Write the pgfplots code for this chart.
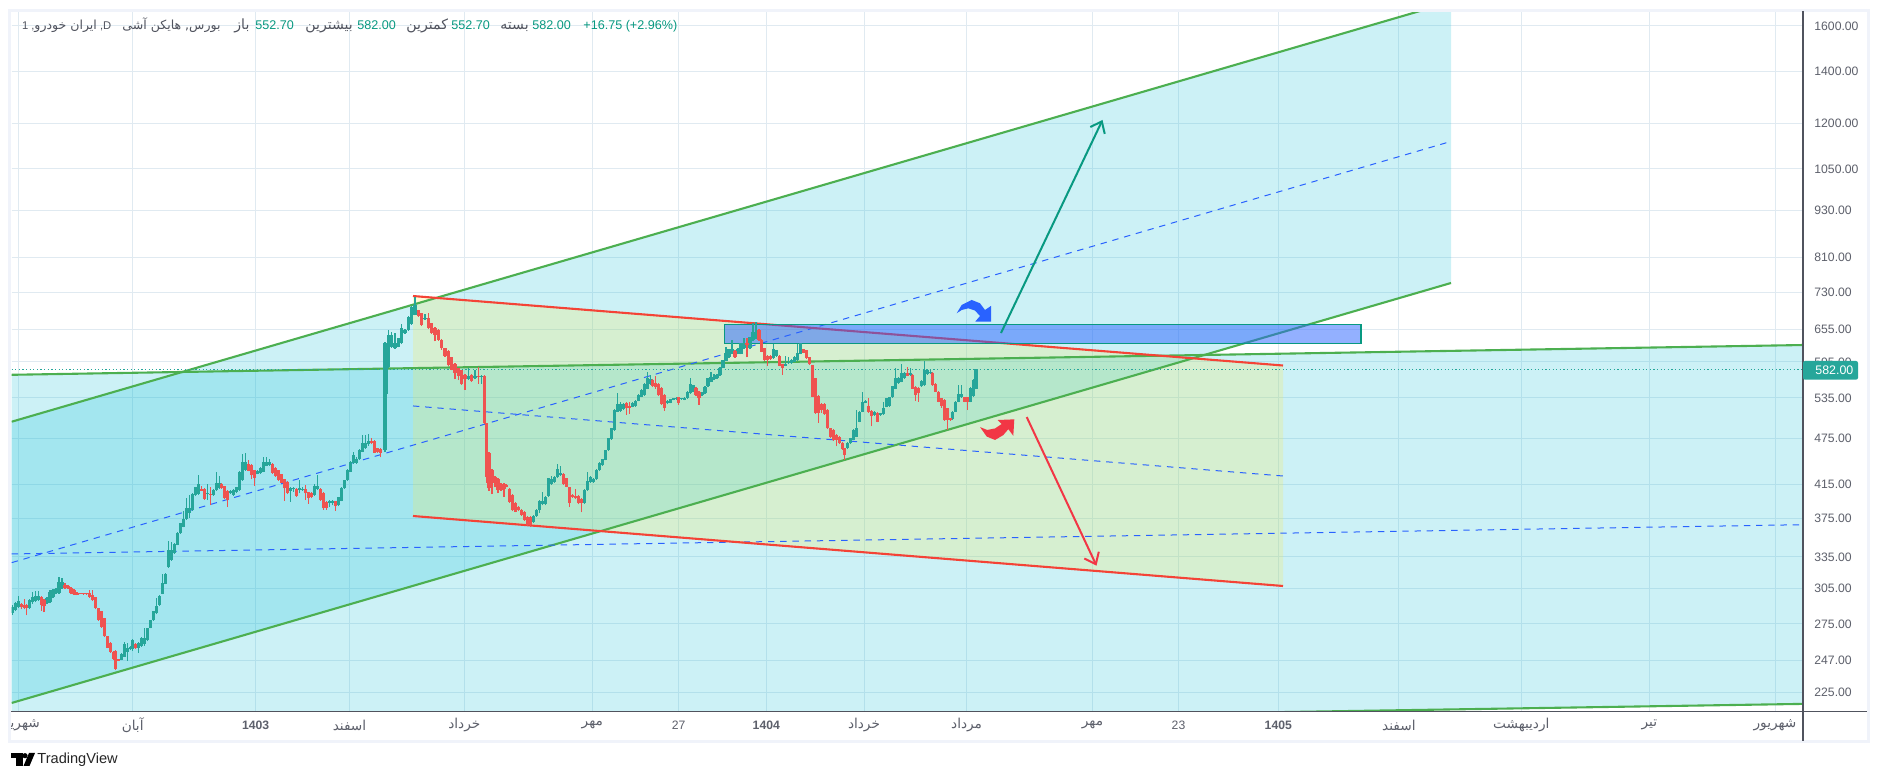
\documentclass[border=0pt]{standalone}
\usepackage{pgfplots}
\usepackage{pgfplotstable}
\usepackage{fontspec}
\pgfplotsset{compat=1.18}
\usetikzlibrary{arrows.meta}
\setmainfont{Liberation Sans}
\newfontfamily\arabicfont[Script=Arabic,Scale=1.12]{DejaVu Sans}
\TeXXeTstate=1
\newcommand\ar[1]{{\arabicfont\beginR #1\endR}}
\definecolor{cyanfill}{HTML}{00BCD4}
\definecolor{yelfill}{HTML}{FFEB3B}
\definecolor{gridc}{HTML}{E0EAF1}
\definecolor{upc}{HTML}{26A69A}
\definecolor{downc}{HTML}{EF5350}
\definecolor{greenl}{HTML}{4CAF50}
\definecolor{redl}{HTML}{F44336}
\definecolor{bluel}{HTML}{2962FF}
\definecolor{tealarrow}{HTML}{089981}
\definecolor{redarrow}{HTML}{F23645}
\definecolor{labc}{HTML}{5D606B}
\definecolor{frame}{HTML}{F0F3FA}
\definecolor{axisc}{HTML}{50535E}
\pgfplotstableread{
x o c l h
12.7 283.7 289 282.5 290.5
15.7 286.5 292.6 285.5 293.5
18.3 289 294 288 299
21.3 291.5 289 287 292.5
24.3 291 288.5 287 295.6
26.7 290.5 288.5 282 291.5
29.3 288 295 287 296
32.3 293 298 292 302
35.3 294 299 293 303
38.3 295 299 294 303
41.3 297.5 290.5 286 298.5
44 295 289.5 284.5 296
47 292.8 296.5 292 297.5
50 293.5 302.5 292.5 304
53 297.5 303.5 296.5 305
56 301 304.5 300 305.5
59 301.5 311.5 300.5 316
62 306 311 305 314.5
65 308.2 306 305 310
68 307.5 305.5 305 308.5
71 306 301 300 306.5
74 304 300 299.5 304.5
77 301.5 299.7 299.2 302
80 301.3 300.4 300 301.6
83.3 301 300.2 299.8 301.4
86.7 300.9 300.1 299.7 301.3
89.3 301 298 297 304
92.3 299.5 295 294 304
95.3 297.5 288 287 298
98.3 288 278 277.5 288.5
101.3 285.5 272.8 272 286
104.3 279.5 265 264.5 280
107.3 265 256.5 256 265.5
110.3 260 253 252.5 260.5
113.3 253.5 248 247.5 254
115.7 254 241 240 254.5
118.7 248 246.8 246.5 248.3
121.7 247.3 252 247 252.5
124.7 249.8 259 249.5 260.5
127.7 253.5 256 246.8 260
130.7 255.2 257 254.5 257.5
132.7 255.2 262.3 254 263
135.7 259.5 256 255.5 260
138.7 256.5 259.7 252.5 260.5
141.7 257.7 263.6 257 264.5
144.7 259 264.2 258 272
147.7 262.3 271.4 261.5 272
150.7 272 278 271.5 278.5
153.7 278 285.5 277.5 286
156.7 283.7 290 283 297
159.7 290.8 299 290 299.5
162.7 300.5 310 300 319
165.7 309.5 319 309 319.5
168.7 325 342 324.5 351
171.7 332 342 331 350
174.7 338.6 348 338 349
177.7 347 359 346.5 360
180.7 359 370 358.5 370.5
183.7 366 375 365.5 384
186.7 375 387 374 398
189.7 381 387.5 376 402
192.7 384.6 403 384 404
195.7 402 411.5 401 412
198.7 403 415 402 426
201.7 409 407.2 406.5 413
204.7 409 397.5 396.5 410
207.7 403 404 396 415
210.7 403.5 402.5 390 411
213.7 402 408 401 409
216.7 408 416 407 430
219.7 410 417 409 425
221.3 415 410 409 416
224.3 412.5 398 397 413
227.3 407 396 388 408
230.3 404 407 403 408
233.3 402 408 401 409
236.3 405 411 404 412
239.3 408 430.5 407 431
242.3 420 443 419 454
245.3 432.7 443 432 454.6
248.3 440 432 431 446
251.3 439 426 421 440
254.3 432.7 423 413 433
257.3 427.5 432 427 433
260.3 428.4 435 428 436
263.3 430.5 442.5 430 450
266.3 438 442.5 437.5 450
269.3 439 442.5 438 447
272.3 441 429 428 442
275.3 435.5 425 424 436
278.3 432.7 420 419 433
281.3 427.5 417 416 428
284.3 421 410 395 421.5
287.3 418 404 403 419
290.3 407 410 394 411
293.3 409 410 406 412
296.3 409.3 401 400 410
299.3 408 410 404 420
302.3 408 409.5 407 412
305.3 409.3 404 396 414
308.3 405 399 392 406
311.3 404 399.5 398.5 405
314.3 402 413 401 415
317.3 409 413 408 426
320.3 409 396 395 410
323.3 404 386.5 385 405
326.3 393.8 387 385 394.5
329.3 393 394.8 388 396
332.3 393 394.8 390 396
335.3 394.8 389 384 395.5
338.3 390 399.5 389 400
341.3 395.5 410 394.5 411
344.3 410 420 409.5 420.5
347.3 420 432.7 419.5 433.5
350.3 430.5 443 430 444
353.3 442 452 441 456
356.3 442 447.5 441 449
359.3 446.5 459 446 460
362.3 456.7 469 456 479
365.3 461 469 460 479
368.3 466.5 471 465 481
371.3 471 468 467 476
374.3 471 455.5 455 472
377.3 461 456 455 462
380.3 460 454.6 449 461
385 459 628.3 456 630
386 542 628 541 629
388.3 585.3 644 584 653.5
391.7 622 644 620 650
395 619 629.5 618 648
398.3 622 637.5 621 639
401.7 628.3 656.7 627 665
405 647 653.5 646 655
408.3 653.5 679.6 652.5 681
411.7 665 700 664 702
415 683 703.5 682 720
418.3 693 680 679 694
421.7 686.5 663 661 688
425 674 677.5 673 686
428.3 676 656.7 655 687
431.7 666.5 647 646 668
435 658 644 632 659
438.3 653.5 634.5 633 654.5
441.7 634.5 619 617 636
445 619 605.5 604 620
448.3 615 589 587 616
451.7 603 581 580 604
455 592 576.5 565 593
458.3 584 571.5 564 585
461.7 580 557.5 556 581
465 572.5 565 547.7 573.5
468.3 565 571 564 585
471.7 572.5 562 561 574
475 567 571 565 581
478.3 571 569 558 586
481.7 569 571 558 572
484.3 571 496.5 495 572
486.7 496.5 424 417 497
489 454.5 410 407 456
492 432.7 416 403 434
495 424 418 411 425
498 421 408 404 422
501 415 408 407 416
504 415 409 400 416
506.7 414 412 411 415
509.7 409 394 393 410
512.7 402 384.6 383 403
515.7 393 382.7 382 394
518.7 388 384.6 383 389
521.7 384.6 379 378 386
524.7 382.7 373.5 372.5 384
527.7 377 368 367 378
530.7 376.5 368 366 377.5
533.7 371.5 378 370.5 379
536.7 378 384.6 377 386
539.7 384.6 395 381 396
542.7 391.5 395 390 406
545.7 391.5 400 390 401
548.7 400.8 422 400 423
551.7 415 421 414 425
554.7 418 424 417 425
557.7 423.5 433.5 422.5 440
560.7 426 429 425 437.5
563.7 427.3 415 414 428.5
566.7 422 412 411 423
569.7 411 392.5 388 412
572.7 402 400 399 403
575.7 400.8 398 397 409
578.7 400.8 392.5 391 402
581.7 397 392.5 382 398
584.7 393 408 392 409
587.7 408 419 407 430
590.7 418 423.5 417 425
593.7 417.5 421 416.5 422
596.7 421 432.7 420 434
599.7 432.7 442 432 443
602.7 439 446.5 438 447.5
605.7 445.6 458.5 445 459.5
608.7 459 475 458 476
611.7 473.5 489 473 490
614.7 486.8 516.3 486 517.5
617.7 514 526 513 543
620.7 515 526 514 528
623.7 517.5 526 516.5 527
626.7 526.5 519 509 528
629.7 522.5 519 511 528
632.7 521.5 527.5 520.5 528.5
635.7 522.5 530.5 521.5 532
638.7 530.5 539.5 529.5 541
641.7 537 547.7 536 549
644.7 539.5 558 538.5 559
647.7 550 567 549 578
650.7 557.5 565 556 572
652.7 564 554 553 565
655.7 559 552.5 550 570
658.7 558 539.5 538 559
661.7 551.5 525.5 524 552.5
664.7 539.5 519 515 540.5
667.7 526.5 530.5 525 531.5
670.7 527.5 533 526.5 534
673.7 531.8 534.5 531 535.5
676.7 533 534.5 532 536
678.3 536 527.5 524 537
681.3 533 534.5 532 535.5
684.3 531.8 534.5 531 536
687.3 534.5 545 533.5 546
690.3 543 558 542 568
693.3 545 555.5 544 556.5
696 551.5 539.5 538 552.5
699 545 534.5 524 546
702 539.5 543 538.5 544
705 542.4 552.5 541 553.5
708 553.5 567 552.5 568
711 561 569.5 560 578
714 565 568.5 564 574
717 567 572.5 566 574
720 572.5 585 571.5 586
723 585 598 584 599
726 597 611 596 622
729 603 617.3 602 618.5
732 609 617.3 608 635
735 615 603 602 616
738 609 618 608 619
741 609 628.3 608 629.5
744 619 629.5 618 638
747 628.3 625 603 638
750 619 639.5 618 641
753 634.5 650.3 633.5 666.5
756 637.5 650.3 636.5 670
759 653.5 634.5 633 655
761.7 634.5 613 612 636
764.7 619 598 597 620
767.7 605.5 598 588 606.5
770.7 605.5 599.5 598 606.5
773.7 601 617.3 600 628
776.7 605.5 616 604 617
779.7 605.5 588 587 606.5
782.7 591 585 572.5 592
785.7 588 591 587 605
788.7 593 595 592 603
791.7 593 598 592 600
794.7 595 604 594 605
797.7 598 611 597 628
800.7 609 628.3 608 629.5
803.7 617.3 611 610 618.5
806.7 616 601 600 617
809.7 603 591 590 604
812.7 589 537 536 590
815.7 567 512 511 568
818.7 538 512 497 539
821.7 525.5 516.3 512 527
824.7 525.5 510 509 527
827.7 516.3 489 488 517.5
830.7 489 476.5 475.5 490
833.7 486.8 472 471 488
836.7 479.5 472.7 464 481
839.7 477.5 468 467 478.5
842.7 468.7 460 459 470
844.3 461 452 446 462
847.3 461 468.7 460 470
850.3 468 475 467 476
853.3 472.7 486.8 472 488
856.3 477.5 490 476.5 516
859.3 499 514 498 515
862.3 514 529.3 513 545
865.3 527.5 530.5 526.5 532
868.3 522.5 514 512 535
871.3 515 507 492 516
874.3 509 514 508 515
877.3 512.5 499 498 513.5
880.3 509 511.5 508 512.5
883.3 510 519 509 528
886.3 521.5 534.5 520.5 535.5
889.3 522.5 536 521.5 537
892.3 536 553.5 535 554.5
895.3 550 567 549 585
898.3 559 568 558 569
901.3 561 576 560 592
904.3 567 576.5 566 577.5
907.3 575.5 571 570 586
910.3 572.5 575.5 571.5 585
912.7 572.5 550 549 574
915.7 552.5 539.5 530 553.5
918.7 551.5 542.4 529 552.5
921.7 553.5 563 552.5 564
924.7 555.5 580 554.5 597
927.7 574 580 573 582
930.7 575.5 578 574.5 580
932.7 576.5 555.5 554.5 578
935.7 558 545 544 559
938.7 545 529.3 528 546
941.7 534.5 522.5 520 535.5
944.7 531.8 501.3 500 533
947.7 519 501.3 487 520
950.7 503.8 501.3 500 505
952.3 502.3 514 501 515
955.3 514 529.3 513 530.5
958.3 529.3 541 528 555
961.3 536 541 535 555
964.3 536 529.3 528 537
967.3 536 529.3 516 537
970.3 529.3 551 528 552.5
973.3 538 564 537 565
976 550 582 549 582
}\candles
\begin{document}
\begin{tikzpicture}
\path[use as bounding box,fill=white] (0,0) rectangle (939.5pt,390.5pt);
\begin{axis}[
  at={(5.85pt,34.75pt)},anchor=south west,
  scale only axis,width=895.65pt,height=350.25pt,
  xmin=11.7,xmax=1803,ymode=log,ymin=212.5,ymax=1672,
  axis line style={draw=none},
  tick style={draw=none},major tick length=0pt,minor tick length=0pt,
  grid=major,grid style={gridc,line width=0.5pt},
  xtick={18.4,132.7,255.6,349.5,464.3,592.3,678.6,766.3,864,966.6,1092.5,1178.5,1278.3,1398.8,1521.3,1649.3,1775},
  xticklabels={\ar{شهریور},\ar{آبان},\textbf{1403},\ar{اسفند},\ar{خرداد},\ar{مهر},27,\textbf{1404},\ar{خرداد},\ar{مرداد},\ar{مهر},23,\textbf{1405},\ar{اسفند},\ar{اردیبهشت},\ar{تیر},\ar{شهریور}},
  xticklabel style={font=\fontsize{6.1}{7.5}\selectfont,text=labc,anchor=center,yshift=-6.75pt},
  yticklabel pos=right,
  ytick={225,247,275,305,335,375,415,475,535,595,655,730,810,930,1050,1200,1400,1600},
  yticklabels={225.00,247.00,275.00,305.00,335.00,375.00,415.00,475.00,535.00,595.00,655.00,730.00,810.00,930.00,1050.00,1200.00,1400.00,1600.00},
  yticklabel style={font=\fontsize{6.1}{7.5}\selectfont,text=labc,anchor=west,inner sep=0pt,xshift=5.5pt},
]
% wide channels
\addplot[draw=none,fill=cyanfill,fill opacity=0.2] coordinates {(11.7,498.8) (1451,1717) (1451,750.5) (11.7,217.9)} --cycle;
\addplot[draw=none,fill=cyanfill,fill opacity=0.2] coordinates {(11.7,572.7) (1803,625.2) (1803,217.3) (11.7,200)} --cycle;
\addplot[draw=none,fill=yelfill,fill opacity=0.2] coordinates {(413,722.3) (1283,588.6) (1283,307.5) (413,377.9)} --cycle;
% channel lines
\addplot[greenl,line width=1.05pt] coordinates {(11.7,498.8) (1451,1717)};
\addplot[greenl,line width=1.05pt] coordinates {(11.7,217.9) (1451,750.5)};
\addplot[greenl,line width=1.05pt] coordinates {(11.7,572.7) (1803,625.2)};
\addplot[greenl,line width=1.05pt] coordinates {(11.7,200) (1803,217.3)};
\addplot[bluel,line width=0.5pt,dash pattern=on 3.2pt off 2.9pt] coordinates {(11.7,329.4) (1451,1138.7)};
\addplot[bluel,line width=0.5pt,dash pattern=on 3.2pt off 2.9pt] coordinates {(11.7,337.9) (1800,368.3)};
\addplot[bluel,line width=0.5pt,dash pattern=on 3.2pt off 2.9pt] coordinates {(413,522.5) (1283,425.1)};
\addplot[redl,line width=1.05pt] coordinates {(413,722.3) (1283,588.6)};
\addplot[redl,line width=1.05pt] coordinates {(413,377.9) (1283,307.5)};
% last price
\addplot[upc,line width=0.5pt,dash pattern=on 0.6pt off 1.2pt] coordinates {(11.7,582) (1803,582)};
% zone
\addplot[draw=tealarrow,line width=0.6pt,fill=bluel,fill opacity=0.5,draw opacity=1] coordinates {(724.3,664.5) (1361,664.5) (1361,628.3) (724.3,628.3)} --cycle;
% candles
\addplot[draw=none,mark=none,error bars/.cd,y dir=plus,y explicit,error mark=none,error bar style={upc,line width=0.55pt}]
  table[x=x,y expr=\thisrow{l},y error plus expr={ifthenelse(\thisrow{c}>=\thisrow{o},\thisrow{h}-\thisrow{l},0)}] {\candles};
\addplot[draw=none,mark=none,error bars/.cd,y dir=plus,y explicit,error mark=none,error bar style={downc,line width=0.55pt}]
  table[x=x,y expr=\thisrow{l},y error plus expr={ifthenelse(\thisrow{c}<\thisrow{o},\thisrow{h}-\thisrow{l},0)}] {\candles};
\addplot[draw=none,mark=none,error bars/.cd,y dir=plus,y explicit,error mark=none,error bar style={upc,line width=1.65pt}]
  table[x=x,y expr=\thisrow{o},y error plus expr={max(\thisrow{c}-\thisrow{o},0)}] {\candles};
\addplot[draw=none,mark=none,error bars/.cd,y dir=plus,y explicit,error mark=none,error bar style={downc,line width=1.65pt}]
  table[x=x,y expr=\thisrow{c},y error plus expr={max(\thisrow{o}-\thisrow{c},0)}] {\candles};
% arrows
\addplot[tealarrow,line width=1pt,-{Straight Barb[length=5pt,width=8pt]}] coordinates {(1001,647.7) (1102.5,1212.8)};
\addplot[redarrow,line width=1pt,-{Straight Barb[length=5pt,width=8pt]}] coordinates {(1026.7,505.7) (1096.5,326.5)};
\addplot[draw=none,fill=bluel] coordinates {(956.7,686.5) (961.7,703.5) (971.7,713.9) (980,707) (985,693.2) (991,701.5) (991,670) (975.3,670) (980,681) (975,692) (968.3,696.5) (961.7,693.2)} --cycle;
\addplot[draw=none,fill=redarrow] coordinates {(980,491) (987.3,486.8) (995,489) (1001.7,495.5) (997.7,501.3) (1014.3,502.3) (1013.3,478.5) (1008.3,488) (1003.3,479.5) (995,472.7) (986.7,477.5)} --cycle;
\end{axis}
\begin{scope}[x=0.5pt,y=-0.5pt,yshift=390.5pt]
\fill[white] (0,700) rectangle (8,745);
\draw[frame,line width=1.5pt] (9.5,10.3) rectangle (1868,741.5);
\draw[axisc,line width=0.6pt] (1803,11) -- (1803,741);
\draw[axisc,line width=0.6pt] (11,711.5) -- (1867,711.5);
% badge
\fill[upc,rounded corners=1pt] (1803,361) rectangle (1858,379.7);
\node[text=white,inner sep=0pt,anchor=west,font=\fontsize{6.2}{7.5}\selectfont] at (1815,370.5) {582.00};
% legend line
\begin{scope}[every node/.style={inner sep=0pt,anchor=base west,font=\fontsize{6.3}{8}\selectfont}]
\node[text=axisc,font=\fontsize{5.6}{8}\selectfont] at (21.6,29.5) {1 ,\ar{ایران خودرو} ,D};
\node[text=axisc,font=\fontsize{5.6}{8}\selectfont] at (122,29.5) {\ar{بورس, هایکن آشی}};
\node[text=axisc] at (234,29.5) {\ar{باز}};
\node[text=tealarrow] at (255,29.5) {552.70};
\node[text=axisc] at (305,29.5) {\ar{بیشترین}};
\node[text=tealarrow] at (357,29.5) {582.00};
\node[text=axisc] at (406,29.5) {\ar{کمترین}};
\node[text=tealarrow] at (451,29.5) {552.70};
\node[text=axisc] at (500,29.5) {\ar{بسته}};
\node[text=tealarrow] at (532,29.5) {582.00};
\node[text=tealarrow] at (583,29.5) {+16.75 (+2.96\%)};
\end{scope}
% logo
\fill[black] (11,753) rectangle (22.5,758.5);
\fill[black] (16,758) rectangle (22.5,766);
\fill[black] (25,755.7) circle (2.6);
\fill[black] (29,753) -- (35,753) -- (29.5,766) -- (23.5,766) -- cycle;
\node[inner sep=0pt,anchor=west,text=black!85,font=\fontsize{7.3}{9}\selectfont] at (37,760) {TradingView};
\end{scope}
\end{tikzpicture}
\end{document}
